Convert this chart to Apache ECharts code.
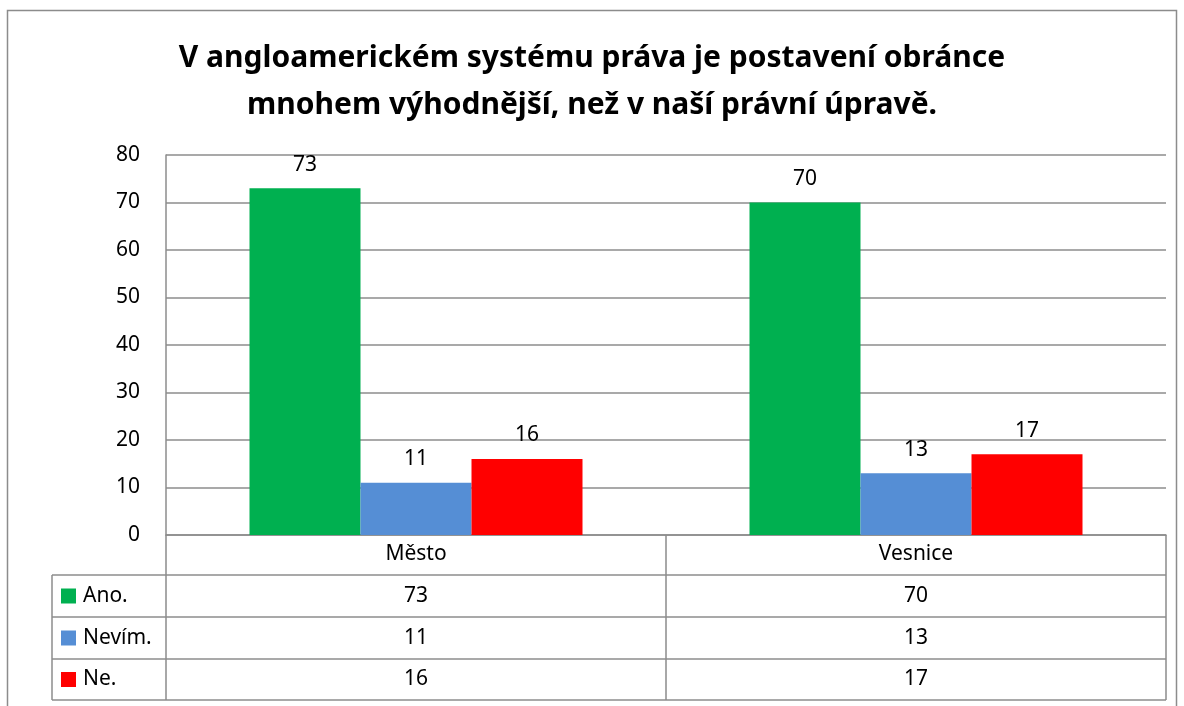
<!DOCTYPE html>
<html>
<head>
<meta charset="utf-8">
<script src="https://cdn.jsdelivr.net/npm/echarts@6/dist/echarts.min.js"></script>
<style>
html, body { margin: 0; padding: 0; background: #fff; }
#main { width: 1184px; height: 706px; }
</style>
</head>
<body>
<div id="main"></div>
<script>
// data
var categories = ['Město', 'Vesnice'];
var seriesNames = ['Ano.', 'Nevím.', 'Ne.'];
var ano = [73, 70];
var nevim = [11, 13];
var ne = [16, 17];
var colors = ['#00B050', '#558ED5', '#FF0000'];

var chart = echarts.init(document.getElementById('main'));

// layout of plot + table
var L = 166, R = 1166, T = 155, B = 535;
var rowTops = [575, 617, 659, 700];
var tableLeft = 52;
var lineCol = '#8c8c8c';
var font = '"Noto Sans", sans-serif';
var fs = 21;

var allValues = [ano, nevim, ne];
var graphics = [];
// outer frame
graphics.push({ type: 'rect', shape: { x: 7.5, y: 10.5, width: 1169, height: 720 }, style: { fill: 'none', stroke: lineCol, lineWidth: 1.5 }, silent: true });
// table horizontal lines
rowTops.forEach(function (y) {
    graphics.push({ type: 'line', shape: { x1: tableLeft, y1: y, x2: R, y2: y }, style: { stroke: lineCol, lineWidth: 1.5 }, silent: true });
});
// table left edge
graphics.push({ type: 'line', shape: { x1: tableLeft, y1: rowTops[0], x2: tableLeft, y2: rowTops[3] }, style: { stroke: lineCol, lineWidth: 1.5 }, silent: true });
// rows: legend key + values
var colW = (R - L) / categories.length;
seriesNames.forEach(function (name, i) {
    var cy = (rowTops[i] + rowTops[i + 1]) / 2;
    graphics.push({ type: 'rect', shape: { x: 61, y: cy - 7.5, width: 15, height: 15 }, style: { fill: colors[i] }, silent: true });
    graphics.push({ type: 'text', x: 83, y: cy, style: { text: name, font: fs + 'px ' + font, fill: '#000', verticalAlign: 'middle', align: 'left' }, silent: true });
    categories.forEach(function (c, j) {
        graphics.push({ type: 'text', x: L + colW * (j + 0.5), y: cy, style: { text: String(allValues[i][j]), font: fs + 'px ' + font, fill: '#000', verticalAlign: 'middle', align: 'center' }, silent: true });
    });
});

function mkSeries(name, data, color) {
    return {
        name: name,
        type: 'bar',
        data: data,
        barGap: 0,
        barCategoryGap: '33.4%',
        itemStyle: { color: color },
        label: {
            show: true,
            position: 'top',
            distance: 13,
            color: '#000',
            fontSize: fs,
            fontFamily: font
        }
    };
}

var option = {
    backgroundColor: '#fff',
    animation: false,
    title: {
        text: 'V angloamerickém systému práva je postavení obránce\nmnohem výhodnější, než v naší právní úpravě.',
        left: 'center',
        top: 30,
        textStyle: {
            fontSize: 30,
            fontWeight: 'bold',
            fontFamily: font,
            color: '#000',
            lineHeight: 47
        }
    },
    grid: { left: L, right: 1184 - R, top: T, bottom: 706 - B },
    xAxis: {
        type: 'category',
        data: categories,
        axisLine: { show: true, lineStyle: { color: lineCol, width: 1.5 } },
        axisTick: { show: true, length: 165, lineStyle: { color: lineCol, width: 1.5 } },
        axisLabel: { color: '#000', fontSize: fs, fontFamily: font, margin: 9 }
    },
    yAxis: {
        type: 'value',
        min: 0,
        max: 80,
        interval: 10,
        axisLine: { show: true, lineStyle: { color: lineCol, width: 1.5 } },
        axisTick: { show: false },
        axisLabel: { color: '#000', fontSize: fs, fontFamily: font, margin: 26 },
        splitLine: { lineStyle: { color: lineCol, width: 1.5 } }
    },
    graphic: graphics,
    series: [
        mkSeries(seriesNames[0], ano, colors[0]),
        mkSeries(seriesNames[1], nevim, colors[1]),
        mkSeries(seriesNames[2], ne, colors[2])
    ]
};
chart.setOption(option);
</script>
</body>
</html>
